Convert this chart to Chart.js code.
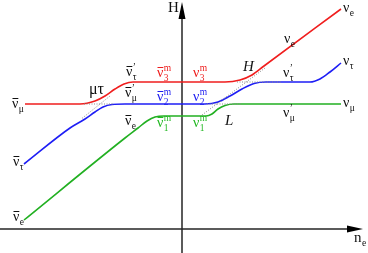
<!DOCTYPE html>
<html>
<head>
<meta charset="utf-8">
<script src="https://cdn.jsdelivr.net/npm/chart.js@4"></script>
<style>
  html, body { margin: 0; padding: 0; background: #fff; }
  #wrap { width: 368px; height: 253px; }
</style>
</head>
<body>
<div id="wrap"><canvas id="levels" width="368" height="253"></canvas></div>
<script>
// --- DATA (x = n_e, y = H, arbitrary units, origin at the axes crossing) ---
const redLevel = [[-157,125],[-102,125],[-87,128],[-77,133],[-67,140],[-58,145],[-49,147],
                  [43,147],[58,149],[70,154],[82,163],[159,220]];
const blueLevel = [[-158,65],[-112,101],[-97,110],[-87,117],[-79,122],[-70,124.5],[-57,125],
                   [23,125],[36,127],[48,133],[60,140],[72,145.5],[84,147],
                   [128,147],[138,150],[148,157],[159,166]];
const greenLevel = [[-158,9],[-57,91],[-44,101],[-35,108],[-27,112],[-18,113],
                    [24,113],[30,115],[36,120],[43,123.5],[52,125],[159,125]];

// unperturbed levels near the crossings (dotted)
const muTauFlat = [[-98,125],[-68,125]];
const muTauDiag = [[-100,110.6],[-72,133]];
const electronDiag = [[20,114],[83,161]];
const lowFlat = [[25,125],[60,125]];
const highFlat = [[55,147],[100,147]];

const axisXRange = [-182, 181];
const axisYRange = [-24, 227];

// --- LABELS ---
const sym = '\u03bd';
const labels = [
    { x: -170, y: 121, text: sym, bar: true, sub: '\u03bc' },
    { x: -169, y: 63, text: sym, bar: true, sub: '\u03c4' },
    { x: -169, y: 8, text: sym, bar: true, sub: 'e' },
    { x: -93, y: 135, text: '\u03bc\u03c4', font: '16px "Liberation Serif"' },
    { x: -56, y: 153, text: sym, bar: true, sub: '\u03c4', sup: '\u2019' },
    { x: -57, y: 132, text: sym, bar: true, sub: '\u03bc', sup: '\u2019' },
    { x: -57, y: 104, text: sym, bar: true, sub: 'e' },
    { x: -25, y: 152, text: sym, bar: true, sub: '3', sup: 'm', color: '#ee1c1c' },
    { x: -25, y: 128, text: sym, bar: true, sub: '2', sup: 'm', color: '#1c1cf0' },
    { x: -25, y: 102, text: sym, bar: true, sub: '1', sup: 'm', color: '#22b822' },
    { x: 11, y: 152, text: sym, sub: '3', sup: 'm', color: '#ee1c1c' },
    { x: 11, y: 128, text: sym, sub: '2', sup: 'm', color: '#1c1cf0' },
    { x: 11, y: 102, text: sym, sub: '1', sup: 'm', color: '#22b822' },
    { x: 61, y: 158, text: 'H', font: 'italic 15px "Liberation Serif"' },
    { x: 43, y: 104, text: 'L', font: 'italic 15px "Liberation Serif"' },
    { x: 102, y: 186, text: sym, sub: 'e' },
    { x: 101, y: 152, text: sym, sub: '\u03c4', sup: '\u2019' },
    { x: 101, y: 112, text: sym, sub: '\u03bc', sup: '\u2019' },
    { x: 161, y: 217, text: sym, sub: 'e' },
    { x: 161, y: 164, text: sym, sub: '\u03c4' },
    { x: 161, y: 122, text: sym, sub: '\u03bc' },
    { x: -14, y: 217, text: 'H', font: '15px "Liberation Serif"' },
    { x: 172, y: -13, text: 'n', sub: 'e', font: '15px "Liberation Serif"' }
];

// --- HELPERS ---
const toPts = (arr) => arr.map(([x, y]) => ({ x, y }));
const curve = (arr, color) => ({
    data: toPts(arr), borderColor: color, borderWidth: 1.6,
    pointRadius: 0, cubicInterpolationMode: 'monotone', fill: false
});
const dotted = (arr) => ({
    data: toPts(arr), borderColor: '#8a8a8a', borderWidth: 1,
    borderDash: [1, 1.5], pointRadius: 0, tension: 0, fill: false
});

const drawLabel = (ctx, px, py, l) => {
    const color = l.color || '#111';
    ctx.fillStyle = color;
    ctx.strokeStyle = color;
    ctx.font = l.font || '14px "Liberation Serif"';
    ctx.textBaseline = 'alphabetic';
    ctx.fillText(l.text, px, py);
    const w = ctx.measureText(l.text).width;
    if (l.bar) {
        ctx.lineWidth = 1;
        ctx.beginPath();
        ctx.moveTo(px + 0.5, py - 9.5);
        ctx.lineTo(px + w, py - 9.5);
        ctx.stroke();
    }
    ctx.font = '9.5px "Liberation Serif"';
    if (l.sub) ctx.fillText(l.sub, px + w + 0.5, py + 3.5);
    if (l.sup) ctx.fillText(l.sup, px + w + 0.5, py - 6);
};

const axesPlugin = {
    id: 'axesAndLabels',
    beforeDatasetsDraw(chart) {
        const { ctx, scales: { x, y } } = chart;
        const x0 = x.getPixelForValue(0), y0 = y.getPixelForValue(0);
        const xs = x.getPixelForValue(axisXRange[0]), xe = x.getPixelForValue(axisXRange[1]);
        const ys = y.getPixelForValue(axisYRange[0]), ye = y.getPixelForValue(axisYRange[1]);
        ctx.save();
        ctx.strokeStyle = '#262626';
        ctx.fillStyle = '#000';
        ctx.lineWidth = 1.5;
        ctx.beginPath();
        ctx.moveTo(xs, y0); ctx.lineTo(xe - 12, y0);
        ctx.moveTo(x0, ys); ctx.lineTo(x0, ye + 12);
        ctx.stroke();
        // arrow heads
        ctx.beginPath();
        ctx.moveTo(xe, y0); ctx.lineTo(xe - 16, y0 - 3.5); ctx.lineTo(xe - 16, y0 + 3.5);
        ctx.closePath();
        ctx.moveTo(x0, ye); ctx.lineTo(x0 - 3.5, ye + 17); ctx.lineTo(x0 + 3.5, ye + 17);
        ctx.closePath();
        ctx.fill();
        ctx.restore();
    },
    afterDatasetsDraw(chart) {
        const { ctx, scales: { x, y } } = chart;
        ctx.save();
        labels.forEach(l => drawLabel(ctx, x.getPixelForValue(l.x), y.getPixelForValue(l.y), l));
        ctx.restore();
    }
};

// --- CHART ---
new Chart(document.getElementById('levels'), {
    type: 'line',
    data: {
        datasets: [
            dotted(muTauFlat), dotted(muTauDiag), dotted(electronDiag), dotted(lowFlat), dotted(highFlat),
            curve(redLevel, '#f01e1e'),
            curve(blueLevel, '#1e1ef5'),
            curve(greenLevel, '#22b022')
        ]
    },
    options: {
        responsive: false,
        animation: false,
        layout: { padding: 0 },
        plugins: { legend: { display: false }, tooltip: { enabled: false } },
        scales: {
            x: { type: 'linear', min: -182, max: 186, display: false },
            y: { type: 'linear', min: -24, max: 229, display: false }
        }
    },
    plugins: [axesPlugin]
});
</script>
</body>
</html>
